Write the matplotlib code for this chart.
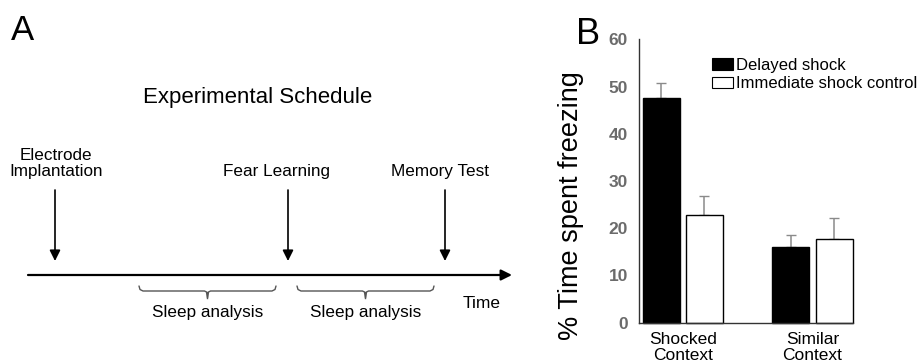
import matplotlib
matplotlib.use("Agg")
import matplotlib.pyplot as plt
from matplotlib.patches import Patch

plt.rcParams["font.family"] = ["Liberation Sans", "DejaVu Sans"]

# panel A: schedule (positions along the time line, in figure pixels)
event_labels = ["Electrode\nImplantation", "Fear Learning", "Memory Test"]
event_times = [55, 288, 445]
label_shift = [1, -11, -5]
sleep_windows = [(139, 276), (297, 434)]
sleep_label = "Sleep analysis"

# panel B: freezing
categories = ["Shocked\nContext", "Similar\nContext"]
series_names = ["Delayed shock", "Immediate shock control"]
delayed = [47.5, 16.1]
delayed_err = [3.2, 2.4]
immediate = [22.7, 17.8]
immediate_err = [4.2, 4.4]
yticks = [0, 10, 20, 30, 40, 50, 60]

W, H = 920, 364
fig = plt.figure(figsize=(W / 100, H / 100), dpi=100)

ax_a = fig.add_axes([0, 0, 1, 1])
ax_a.set_xlim(0, W)
ax_a.set_ylim(H, 0)
ax_a.axis("off")

ax_a.text(11, 30, "A", fontsize=25, va="center", ha="left")
ax_a.text(258, 98, "Experimental Schedule", fontsize=16, ha="center", va="center")

line_y = 275
ax_a.annotate("", xy=(512, line_y), xytext=(28, line_y),
              arrowprops=dict(arrowstyle="-|>", lw=1.6, color="black",
                              mutation_scale=16, shrinkA=0, shrinkB=0))
for label, t, dx in zip(event_labels, event_times, label_shift):
    ax_a.annotate("", xy=(t, 261), xytext=(t, 190),
                  arrowprops=dict(arrowstyle="-|>", lw=1.2, color="black",
                                  mutation_scale=16, shrinkA=0, shrinkB=0))
    ax_a.text(t + dx, 179, label, fontsize=12.3, ha="center", va="bottom", linespacing=1.05)

for x0, x1 in sleep_windows:
    xm = (x0 + x1) / 2
    ax_a.plot([x0, x0 + 1, x0 + 4, xm - 3, xm - 1, xm, xm + 1, xm + 3, x1 - 4, x1 - 1, x1],
              [286, 289.5, 291, 291, 292, 298, 292, 291, 291, 289.5, 286],
              color="#555555", lw=1.0, solid_capstyle="round")
    ax_a.plot([xm, xm], [292, 298], color="#555555", lw=1.0)
    ax_a.text(xm, 313, sleep_label, fontsize=12.3, ha="center", va="center")
ax_a.text(482, 303, "Time", fontsize=12.5, ha="center", va="center")

ax_a.text(576, 35, "B", fontsize=26, va="center", ha="left")

# panel B axes
x_left, x_right, y_top, y_bot = 639, 853, 39.3, 322.7
ax_b = fig.add_axes([x_left / W, 1 - y_bot / H, (x_right - x_left) / W, (y_bot - y_top) / H])
width = 0.285
offset = 0.166
xs = [0, 1]
err_kw = dict(fmt="none", ecolor="#8a8a8a", elinewidth=1.1, capsize=3.5, capthick=1.0, zorder=1)
ax_b.bar([x - offset for x in xs], delayed, width, color="black", edgecolor="black", lw=1.0,
         zorder=2, clip_on=False)
ax_b.bar([x + offset for x in xs], immediate, width, color="white", edgecolor="black", lw=1.0,
         zorder=2, clip_on=False)
ax_b.errorbar([x - offset for x in xs], delayed, yerr=[[0, 0], delayed_err], **err_kw)
ax_b.errorbar([x + offset for x in xs], immediate, yerr=[[0, 0], immediate_err], **err_kw)

ax_b.set_xlim(-0.337, 1.312)
ax_b.set_ylim(0, 60)
ax_b.set_yticks(yticks)
ax_b.set_yticklabels([str(v) for v in yticks], color="#6b6b6b", fontweight="bold", fontsize=12.5)
ax_b.set_xticks(xs)
ax_b.set_xticklabels(categories, fontsize=12.5, linespacing=1.02)
ax_b.tick_params(axis="y", length=0, pad=8)
ax_b.tick_params(axis="x", length=0, pad=7)
for side in ["top", "right"]:
    ax_b.spines[side].set_visible(False)
for side in ["left", "bottom"]:
    ax_b.spines[side].set_color("#333333")
    ax_b.spines[side].set_linewidth(1.0)
ax_b.patch.set_alpha(0)

ax_b.set_ylabel("% Time spent freezing", fontsize=19.5)
ax_b.yaxis.set_label_coords(-0.257, 0.415)

handles = [Patch(facecolor="black", edgecolor="black", lw=0.8),
           Patch(facecolor="white", edgecolor="black", lw=0.8)]
fig.legend(handles, series_names, loc="upper left", bbox_to_anchor=(712 / W, 1 - 58 / H),
           frameon=False, fontsize=12, handlelength=1.25, handleheight=0.7,
           handletextpad=0.2, labelspacing=0.2, borderpad=0, borderaxespad=0)

fig.savefig("out.png", dpi=100)
